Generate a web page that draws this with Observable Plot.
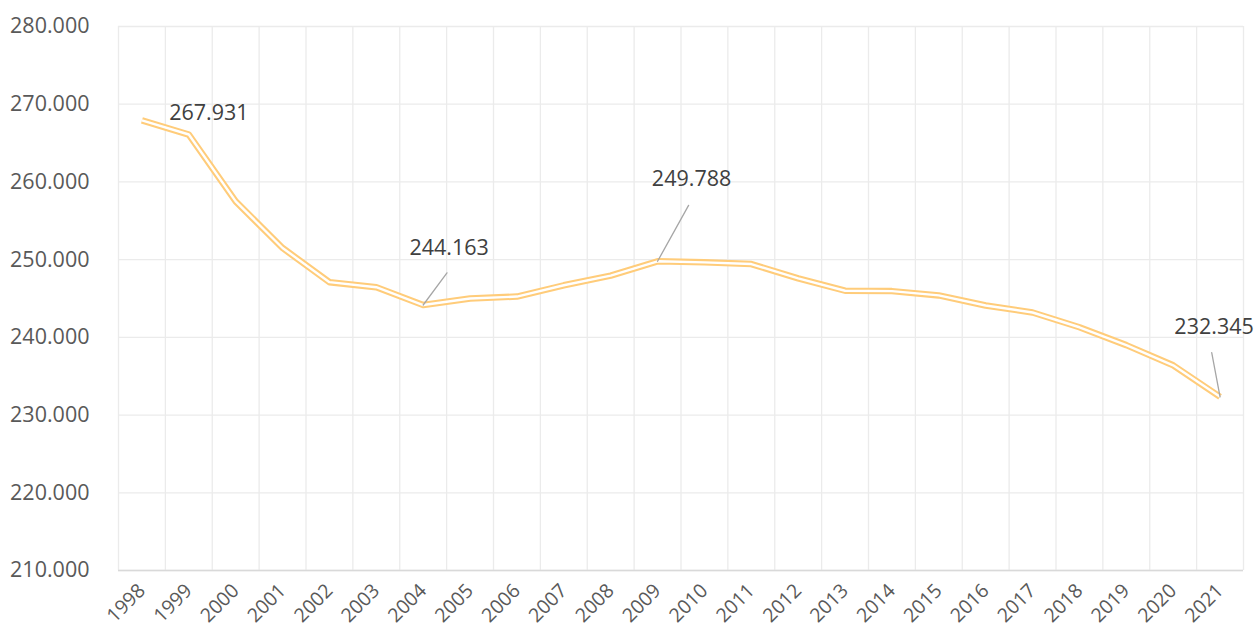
<!DOCTYPE html>
<html>
<head>
<meta charset="utf-8">
<script src="https://cdn.jsdelivr.net/npm/d3@7"></script>
<script src="https://cdn.jsdelivr.net/npm/@observablehq/plot@0.6"></script>
<style>
  html, body { margin: 0; padding: 0; background: #fff; }
  #chart svg { display: block; }
</style>
</head>
<body>
<div id="chart"></div>
<script>
const years = [1998, 1999, 2000, 2001, 2002, 2003, 2004, 2005, 2006, 2007, 2008, 2009,
               2010, 2011, 2012, 2013, 2014, 2015, 2016, 2017, 2018, 2019, 2020, 2021];
const values = [267931, 266100, 257500, 251500, 247100, 246450, 244163, 245000, 245250, 246700,
                247950, 249788, 249650, 249430, 247600, 246000, 245950, 245400, 244100, 243200,
                241300, 239000, 236400, 232345];
const yTicks = [210000, 220000, 230000, 240000, 250000, 260000, 270000, 280000];
const labeledYears = [1998, 2004, 2009, 2021];

const data = years.map((year, i) => ({year, value: values[i]}));
const locale = d3.formatLocale({decimal: ",", thousands: ".", grouping: [3], currency: ["", ""]});
const fmt = locale.format(",");

// label placement (pixels), styling only
const labelOffset = {1998: [67, 0], 2004: [26, -50], 2009: [34, -75], 2021: [-6, -63]};
const leader = {2004: [40, 36.5], 2009: [64, 29], 2021: [45, -10.7]};

const labelData = data.filter(d => labeledYears.includes(d.year));
const leaderData = labelData.filter(d => leader[d.year]);

const boundaries = years.concat([years[years.length - 1] + 1]).map(y => y - 0.5);

const font = "'Open Sans', sans-serif";

const chart = Plot.plot({
  width: 1255,
  height: 634,
  marginLeft: 118,
  marginRight: 12,
  marginTop: 26,
  marginBottom: 64,
  style: {fontFamily: font, background: "#fff"},
  x: {domain: [years[0] - 0.5, years[years.length - 1] + 0.5]},
  y: {domain: [210000, 280000]},
  length: {type: "identity"},
  marks: [
    Plot.ruleY(yTicks, {stroke: "#EBEBEB", strokeWidth: 1.3}),
    Plot.ruleX(boundaries, {stroke: "#EBEBEB", strokeWidth: 1.3}),
    Plot.ruleY([210000], {stroke: "#D9D9D9", strokeWidth: 1.3}),
    Plot.axisY({ticks: yTicks, tickFormat: fmt, tickSize: 0, tickPadding: 29,
                fontSize: 21.5, fill: "#595959", label: null}),
    Plot.axisX({ticks: years, tickFormat: d => String(d), tickSize: 0, tickPadding: 17,
                tickRotate: -45, fontSize: 19.5, fill: "#595959", label: null}),
    Plot.line(data, {x: "year", y: "value", stroke: "#FFCC7A", strokeWidth: 6.5, strokeLinecap: "butt"}),
    Plot.line(data, {x: "year", y: "value", stroke: "#fff", strokeWidth: 2.4, strokeLinecap: "butt"}),
    Plot.vector(leaderData, {x: "year", y: "value", anchor: "start",
                length: d => leader[d.year][0], rotate: d => leader[d.year][1],
                stroke: "#A6A6A6", strokeWidth: 1.3,
                shape: {draw(ctx, l) { ctx.moveTo(0, 0); ctx.lineTo(0, -l); }}}),
    Plot.text(labelData, {x: "year", y: "value", text: d => fmt(d.value),
              fontSize: 21.5, fill: "#404040",
              render(index, scales, values, dims, context, next) {
                const g = next(index, scales, values, dims, context);
                d3.select(g).selectAll("text").each(function(i) {
                  const d = labelData[i];
                  const [ox, oy] = labelOffset[d.year];
                  const x = scales.x(d.year) + ox, y = scales.y(d.value) + oy;
                  d3.select(this).attr("transform", `translate(${x},${y})`).attr("x", null).attr("y", null);
                });
                return g;
              }})
  ]
});
document.getElementById("chart").appendChild(chart);
</script>
</body>
</html>
